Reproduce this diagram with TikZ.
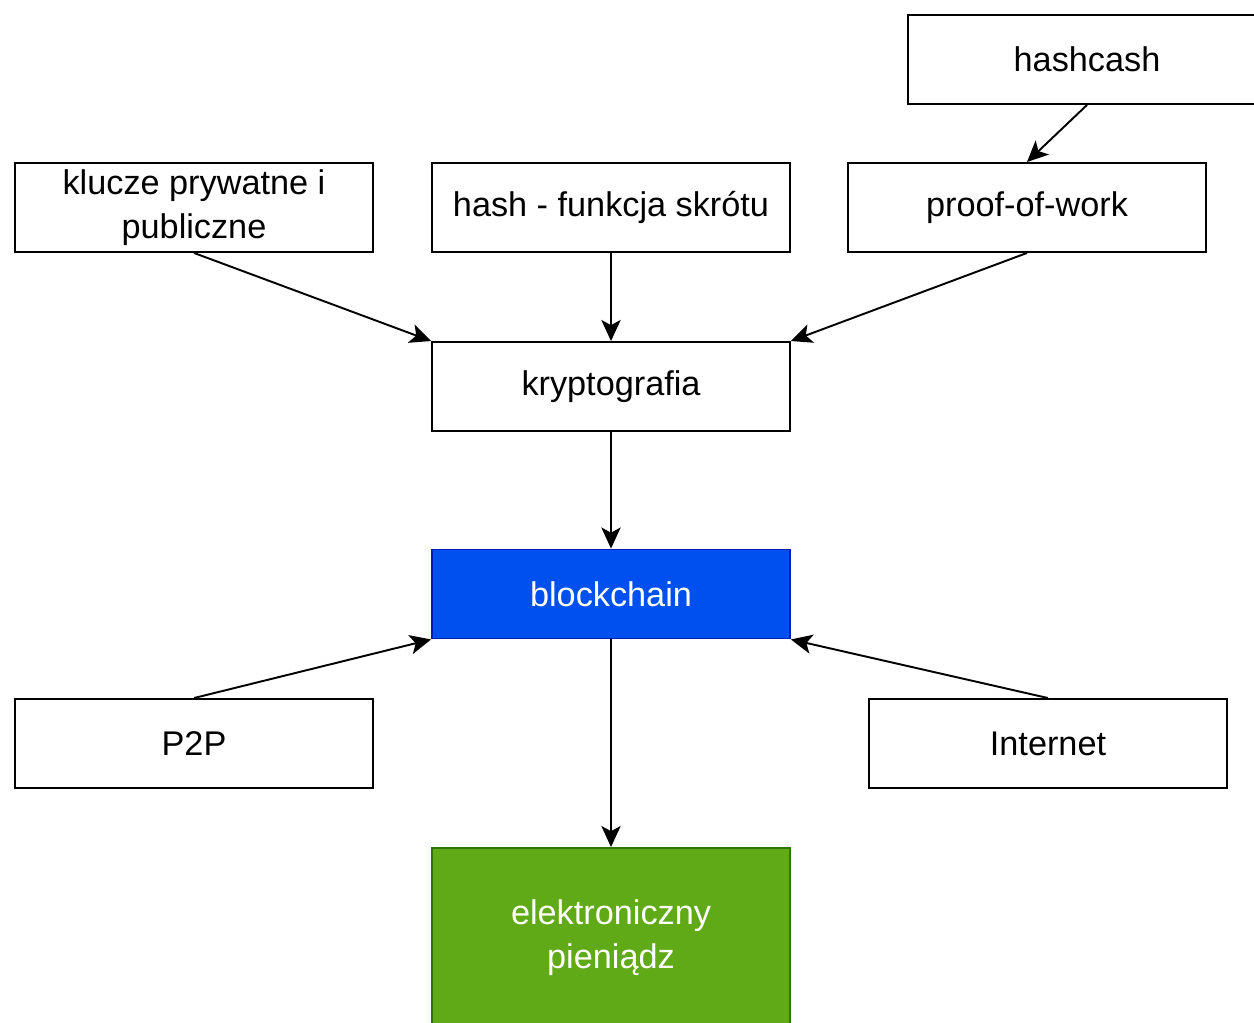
\documentclass[tikz,border=0pt]{standalone}
\usepackage{fontspec}
\setmainfont{Liberation Sans}
\usetikzlibrary{arrows.meta}
\definecolor{bcfill}{HTML}{0050EF}
\definecolor{bcline}{HTML}{001DBC}
\definecolor{emfill}{HTML}{60A917}
\definecolor{emline}{HTML}{2D7600}
\begin{document}
\begin{tikzpicture}[x=0.02cm,y=-0.02cm,
  box/.style={draw=black, line width=1.1pt, fill=white, minimum width=7.16cm, minimum height=1.78cm,
    inner sep=0pt, align=center, font=\fontsize{19.5}{25}\selectfont},
  bluebox/.style={box, fill=bcfill, draw=bcline, text=white},
  greenbox/.style={box, fill=emfill, draw=emline, text=white, minimum height=3.6cm},
  link/.style={draw=black, line width=1.1pt, -{Stealth[length=12pt, width=11pt, inset=3pt]}}]
  \path[use as bounding box] (0,0) rectangle (1254,1023);
  \clip (0,0) rectangle (1254,1023);
  \fill[white] (0,0) rectangle (1254,1023);

  \node[box] (hashcash) at (1087,59.5) {hashcash};
  \node[box] (klucze) at (194,207.5) {klucze prywatne i\\publiczne};
  \node[box] (hash) at (611,207.5) {hash - funkcja skrótu};
  \node[box] (pow) at (1027,207.5) {proof-of-work};
  \node[box] (krypto) at (611,386.5) {kryptografia};
  \node[bluebox] (bc) at (611,594) {blockchain};
  \node[box] (p2p) at (194,743.5) {P2P};
  \node[box] (inet) at (1048,743.5) {Internet};
  \node[greenbox] (money) at (611,938) {elektroniczny\\pieniądz};

  \draw[link] (hashcash.south) -- (pow.north);
  \draw[link] (klucze.south) -- (krypto.north west);
  \draw[link] (hash.south) -- (krypto.north);
  \draw[link] (pow.south) -- (krypto.north east);
  \draw[link] (krypto.south) -- (bc.north);
  \draw[link] (p2p.north) -- (bc.south west);
  \draw[link] (inet.north) -- (bc.south east);
  \draw[link] (bc.south) -- (money.north);
\end{tikzpicture}
\end{document}
